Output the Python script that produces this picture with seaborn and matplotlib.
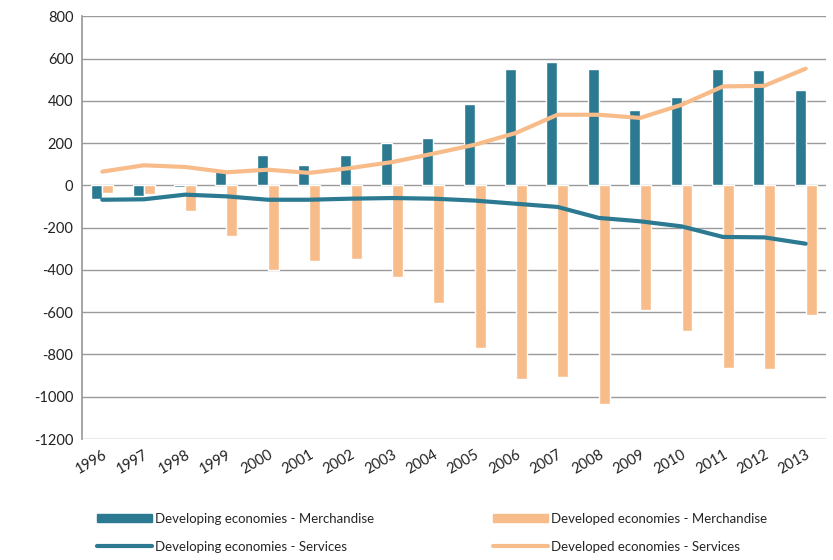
import matplotlib
matplotlib.use("Agg")
import matplotlib.pyplot as plt
import seaborn as sns
import pandas as pd
import numpy as np
from matplotlib.patches import Patch
from matplotlib.lines import Line2D

years = [str(y) for y in range(1996, 2014)]
dev_merch = [-63, -48, -10, 74, 144, 96, 144, 200, 224, 383, 550, 583, 550, 355, 418, 550, 544, 451]
dvd_merch = [-36, -41, -121, -241, -402, -356, -348, -435, -556, -769, -914, -908, -1034, -588, -689, -862, -868, -611]
dev_serv = [-68, -66, -44, -52, -68, -68, -63, -60, -63, -72, -87, -102, -154, -170, -194, -244, -246, -276]
dvd_serv = [65, 95, 87, 62, 74, 59, 82, 110, 150, 192, 248, 334, 334, 319, 381, 468, 471, 552]

teal = "#2B7A92"
peach = "#F8BC8A"

sns.set_theme(style="white")
plt.rcParams["font.family"] = ["Lato", "DejaVu Sans"]

bars = pd.DataFrame({
    "year": years * 2,
    "value": dev_merch + dvd_merch,
    "series": ["Developing economies - Merchandise"] * len(years)
              + ["Developed economies - Merchandise"] * len(years),
})

fig = plt.figure(figsize=(8.33, 5.60), dpi=100)
ax = fig.add_axes([0.098, 0.216, 0.894, 0.755])

sns.barplot(data=bars, x="year", y="value", hue="series",
            palette=[teal, peach], width=0.53, saturation=1,
            ax=ax, legend=False)

pos = np.arange(len(years))
sns.lineplot(x=pos, y=dev_serv, color=teal, linewidth=3, ax=ax)
sns.lineplot(x=pos, y=dvd_serv, color=peach, linewidth=3, ax=ax)

ax.set_xlim(-0.5, len(years) - 0.5)
ax.set_ylim(-1200, 800)
ax.set_yticks(range(-1200, 801, 200))
ax.set_yticklabels([str(v) for v in range(-1200, 801, 200)], fontsize=10.5, color="#222222")
ax.set_xticks(pos)
ax.set_xticklabels(years, rotation=30, fontsize=10.5, color="#222222",
                   ha="right", rotation_mode="anchor", va="top")
ax.set_xlabel("")
ax.set_ylabel("")
ax.yaxis.grid(True, color="#9a9a9a", linewidth=1)
ax.set_axisbelow(True)
for s in ["top", "right", "bottom"]:
    ax.spines[s].set_visible(False)
ax.spines["left"].set_color("#9a9a9a")
ax.tick_params(axis="both", length=0, pad=6)

# legend filled column by column: bars on the first row, lines on the second
handles = [
    Patch(color=teal, label="Developing economies - Merchandise"),
    Line2D([0], [0], color=teal, lw=3, label="Developing economies - Services"),
    Patch(color=peach, label="Developed economies - Merchandise"),
    Line2D([0], [0], color=peach, lw=3, label="Developed economies - Services"),
]
fig.legend(handles=handles, ncol=2, loc="lower left", bbox_to_anchor=(0.102, -0.008),
           frameon=False, fontsize=9.5, columnspacing=9.0, handlelength=4.2,
           handleheight=0.6, handletextpad=0.2, labelspacing=1.2)

fig.savefig("out.png", dpi=100)
